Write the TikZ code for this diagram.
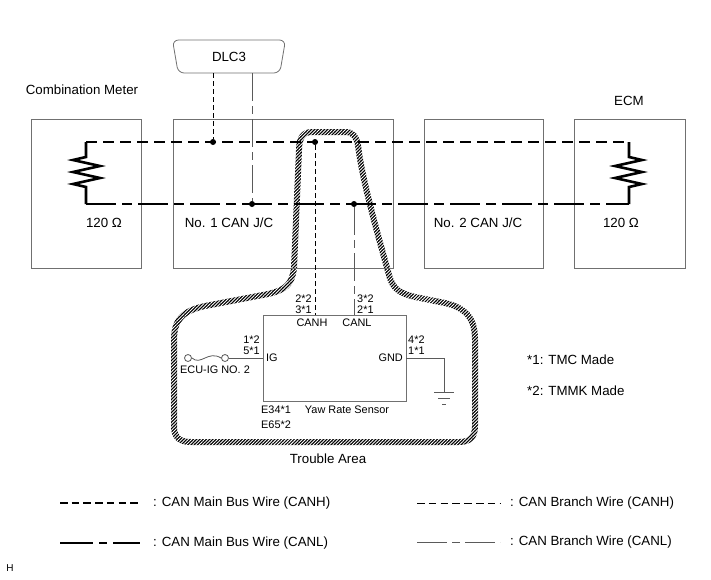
\documentclass[tikz,border=0pt]{standalone}
\usepackage{fontspec}
\setmainfont{Liberation Sans}
\usetikzlibrary{shapes.geometric, positioning, patterns.meta}
\definecolor{boxgray}{RGB}{112, 112, 112}
\definecolor{wiregray}{RGB}{90, 90, 90}
\newcommand{\bigtxt}{\fontsize{13.3}{15}\selectfont}
\newcommand{\pintxt}{\fontsize{10.9}{11}\selectfont}

\begin{document}
\begin{tikzpicture}[
    x=1pt, y=-1pt,
    unit/.style={draw=boxgray, line width=0.8pt, minimum width=#1, minimum height=149pt, inner sep=0pt},
    dlcbox/.style={trapezium, shape border rotate=180, trapezium angle=59, trapezium stretches body,
        minimum width=113pt, minimum height=33pt, draw=boxgray, line width=0.8pt, rounded corners=6pt,
        inner sep=0pt, font=\bigtxt},
    label/.style={font=\bigtxt, inner sep=0pt},
    pin/.style={font=\pintxt, inner sep=0pt, align=#1},
    pin/.default=left,
    mainh/.style={line width=2.6pt, dash pattern=on 11pt off 6pt},
    mainl/.style={line width=2.6pt, dash pattern=on 30pt off 6pt on 10pt off 6pt},
    branchh/.style={line width=0.9pt, dash pattern=on 5pt off 3pt},
    branchl/.style={line width=0.9pt, draw=wiregray, dash pattern=on 28pt off 5pt on 8pt off 5pt},
    res/.style={line width=2.6pt},
    wire/.style={draw=wiregray, line width=0.8pt},
    dot/.style={circle, fill, minimum size=6pt, inner sep=0pt},
    trouble/.style={line width=6pt, line join=round}
]
    \useasboundingbox (0,0) rectangle (711,579);

    % Trouble area (hatched band)
    \draw[trouble] (299,150) .. controls (299,138) and (303,132) .. (312,132)
        -- (345,132) .. controls (353,132) and (356,136) .. (358,145)
        .. controls (362,180) and (378,235) .. (389,275)
        .. controls (393,290) and (400,293) .. (415,297)
        -- (445,303) .. controls (466,308) and (475,318) .. (475,340)
        -- (475,426) .. controls (475,437) and (470,442) .. (459,442)
        -- (191,442) .. controls (179,442) and (174,437) .. (174,426)
        -- (174,340) .. controls (174,320) and (182,311) .. (205,306)
        -- (268,294) .. controls (285,290) and (292,285) .. (294,268)
        -- cycle;
    \fill[pattern={Lines[angle=45, distance=2.3pt, line width=0.9pt]}, pattern color=white]
        (160,120) rectangle (490,452);

    % Units (top)
    \node[unit=110pt] (meter) at (86,193.5) {};
    \node[unit=220pt] (jcone) at (283,193.5) {};
    \node[unit=119pt] (jctwo) at (483.5,193.5) {};
    \node[unit=111pt] (ecm) at (629.5,193.5) {};
    \node[dlcbox] (dlc) at (229,56.5) {DLC3};

    \node[label] at (82,90) {Combination Meter};
    \node[label] at (629,101) {ECM};
    \node[label] at (104,223) {120 Ω};
    \node[label] at (229,223) {No. 1 CAN J/C};
    \node[label] at (478,223) {No. 2 CAN J/C};
    \node[label] at (621,223) {120 Ω};

    % Terminating resistors
    \coordinate (hmeter) at (86,142);
    \coordinate (lmeter) at (86,204);
    \coordinate (hecm) at (629,142);
    \coordinate (lecm) at (629,204);
    \draw[res] (hmeter) -- ++(0,15) -- ++(-13,3) -- ++(27,6) -- ++(-27,6) -- ++(27,6) -- ++(-27,6) -- ++(13,3) -- (lmeter);
    \draw[res] (hecm) -- ++(0,15) -- ++(13,3) -- ++(-27,6) -- ++(27,6) -- ++(-27,6) -- ++(27,6) -- ++(-13,3) -- (lecm);

    % Main bus
    \draw[mainh] (hmeter) -- (hecm);
    \draw[mainl] (lmeter) -- (lecm);

    % Junctions
    \node[dot] (hdlc) at (213,142) {};
    \node[dot] (ldlc) at (252,204) {};
    \node[dot] (hyaw) at (315,142) {};
    \node[dot] (lyaw) at (354,204) {};

    % Yaw rate sensor
    \node[draw=boxgray, line width=0.8pt, minimum width=143pt, minimum height=86pt, inner sep=0pt] (yaw) at (334.5,358) {};

    % Branches
    \draw[branchh] (dlc.south -| hdlc) -- (hdlc);
    \draw[branchl] (dlc.south -| ldlc) -- (ldlc);
    \draw[branchh] (hyaw) -- (hyaw |- yaw.north);
    \draw[branchl] (lyaw) -- (lyaw |- yaw.north);

    % Sensor pins
    \node[pin=right, anchor=south east] at (312,314) {2*2\\3*1};
    \node[pin, anchor=south west] at (357,314) {3*2\\2*1};
    \node[pin] at (312,323) {CANH};
    \node[pin] at (357,323) {CANL};
    \node[pin=right, anchor=south east] at (260,355) {1*2\\5*1};
    \node[pin, anchor=west] at (266,358) {IG};
    \node[pin, anchor=south west] at (408,355) {4*2\\1*1};
    \node[pin, anchor=east] at (403,358) {GND};
    \node[pin, anchor=west] at (261,410) {E34*1};
    \node[pin, anchor=west] at (261,425) {E65*2};
    \node[pin] at (347,410) {Yaw Rate Sensor};

    % IG supply
    \node[circle, draw=wiregray, line width=0.8pt, minimum size=7pt, inner sep=0pt] (fusel) at (188,358) {};
    \node[circle, draw=wiregray, line width=0.8pt, minimum size=7pt, inner sep=0pt] (fuser) at (225,358) {};
    \draw[wire] (fusel.east) .. controls (201,366) and (208,350) .. (fuser.west);
    \draw[wire] (fuser.east) -- (yaw.west |- fuser);
    \node[pin] at (215,370) {ECU-IG NO. 2};

    % Ground
    \coordinate (gnd) at (444,392);
    \draw[wire] (yaw.east) -| (gnd);
    \draw[wire] (gnd) ++(-10,0) -- ++(20,0) ++(-16,6) -- ++(12,0) ++(-8,6) -- ++(4,0);

    \node[label] at (328,459) {Trouble Area};
    \node[label, anchor=west] at (527,360) {*1: TMC Made};
    \node[label, anchor=west] at (527,391) {*2: TMMK Made};

    % Legend
    \draw[line width=2.6pt, dash pattern=on 7.5pt off 4.2pt] (60,503) -- (140,503);
    \draw[line width=2.6pt, dash pattern=on 33pt off 6pt on 8pt off 6pt] (60,543) -- (140,543);
    \draw[line width=0.9pt, dash pattern=on 7.5pt off 4.3pt] (417,503) -- (500,503);
    \draw[line width=0.9pt, draw=wiregray, dash pattern=on 30pt off 5pt on 8pt off 5pt] (417,542) -- (500,542);
    \node[label, anchor=west] at (153,503) {: CAN Main Bus Wire (CANH)};
    \node[label, anchor=west] at (153,543) {: CAN Main Bus Wire (CANL)};
    \node[label, anchor=west] at (510,503) {: CAN Branch Wire (CANH)};
    \node[label, anchor=west] at (510,542) {: CAN Branch Wire (CANL)};

    \node[font=\fontsize{10}{11}\selectfont, inner sep=0pt] at (10,568) {H};

\end{tikzpicture}
\end{document}
